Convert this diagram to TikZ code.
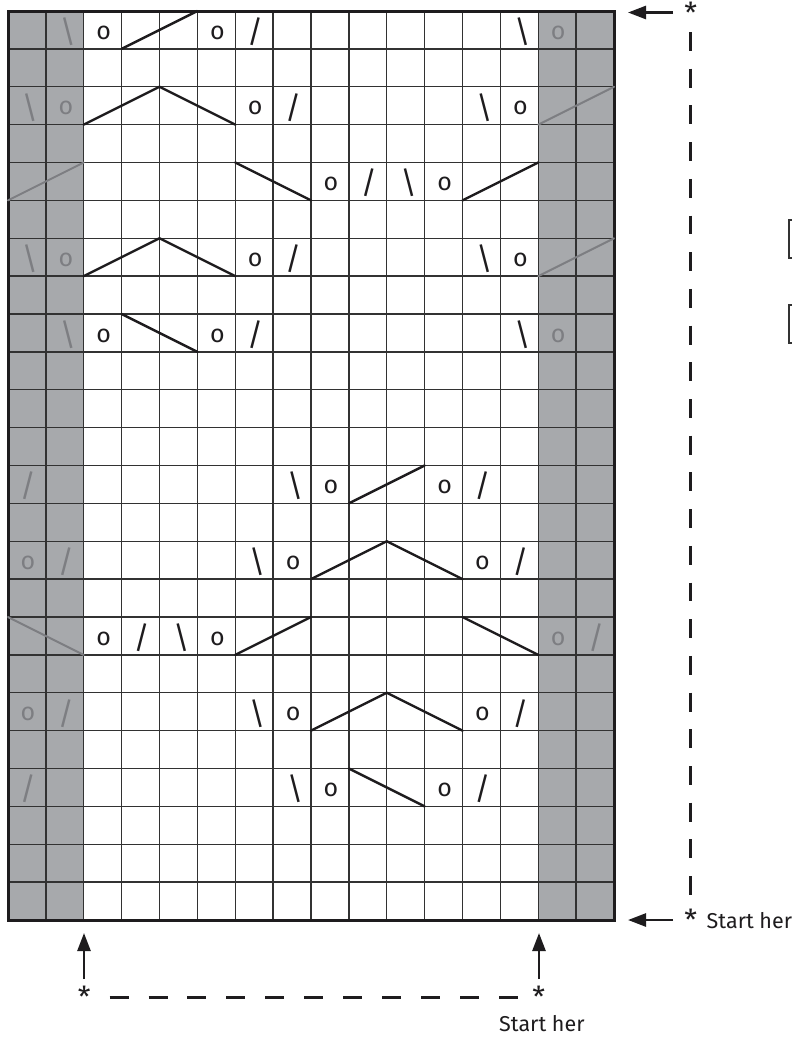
\documentclass[tikz,border=0pt]{standalone}
\usepackage{fontspec}
\setmainfont{Fira Sans}
\usetikzlibrary{arrows.meta}
\definecolor{colgray}{RGB}{167,169,172}
\definecolor{symgray}{RGB}{125,126,130}
\definecolor{gridc}{RGB}{50,50,50}
\definecolor{inkc}{RGB}{30,28,30}
\newcommand\fwdglyph{\resizebox*{!}{28pt}{/}}
\newcommand\bckglyph{\resizebox*{!}{28pt}{\textbackslash}}
\tikzset{
  gridline/.style={draw=gridc,line width=1.3pt},
  chartborder/.style={draw=inkc,line width=3pt},
  cable/.style={draw=inkc,line width=2.4pt,line cap=round,line join=round},
  graycable/.style={draw=symgray,line width=2pt,line cap=round,line join=round},
  osym/.style={inner sep=0pt,text=inkc,font=\fontsize{25}{25}\selectfont,xshift=1pt,yshift=-2.5pt},
  fwdsym/.style={inner sep=0pt,text=inkc,xshift=1pt,yshift=-1.6pt},
  bcksym/.style={inner sep=0pt,text=inkc,xshift=3pt,yshift=-1.7pt},
  grayed/.style={text=symgray},
  ast/.style={inner sep=0pt,text=inkc,font=\fontsize{29}{29}\selectfont},
  label/.style={inner sep=0pt,text=inkc,font=\fontsize{21.5}{24}\selectfont},
  arr/.style={draw=inkc,line width=2.6pt,-{Triangle[length=18pt,width=13pt]}},
  dashv/.style={draw=inkc,line width=3pt,dash pattern=on 18.9pt off 17.8pt},
  dashh/.style={draw=inkc,line width=3pt,dash pattern=on 19pt off 19.94pt},
  legendbox/.style={draw=gridc,line width=2pt}
}
\begin{document}
\begin{tikzpicture}[x=1pt,y=-1pt]
\useasboundingbox (0,0) rectangle (792,1037);
\clip (0,0) rectangle (792,1037);
\fill[white] (0,0) rectangle (792,1037);
\begin{scope}[shift={(8,11)},x=37.875pt,y=-37.875pt]
  % shaded edge columns
  \fill[colgray] (0,0) rectangle (2,24);
  \fill[colgray] (14,0) rectangle (16,24);
  % grid
  \foreach \i in {1,...,15} \draw[gridline] (\i,0) -- (\i,24);
  \foreach \j in {1,...,23} \draw[gridline] (0,\j) -- (16,\j);
  \draw[chartborder] (0,0) rectangle (16,24);
  % black cable lines
  \draw[cable] (3,1) -- (5,0);
  \draw[cable] (2,3) -- (4,2) -- (6,3);
  \draw[cable] (6,4) -- (8,5);
  \draw[cable] (12,5) -- (14,4);
  \draw[cable] (2,7) -- (4,6) -- (6,7);
  \draw[cable] (3,8) -- (5,9);
  \draw[cable] (9,13) -- (11,12);
  \draw[cable] (8,15) -- (10,14) -- (12,15);
  \draw[cable] (6,17) -- (8,16);
  \draw[cable] (12,16) -- (14,17);
  \draw[cable] (8,19) -- (10,18) -- (12,19);
  \draw[cable] (9,20) -- (11,21);
  % grey cable lines in the edge columns
  \draw[graycable] (14,3) -- (16,2);
  \draw[graycable] (0,5) -- (2,4);
  \draw[graycable] (14,7) -- (16,6);
  \draw[graycable] (0,16) -- (2,17);
  % yarn overs
  \foreach \r/\c in {0/2,0/5,2/6,2/13,4/8,4/11,6/6,6/13,8/2,8/5,12/8,12/11,14/7,14/12,16/2,16/5,18/7,18/12,20/8,20/11}
    \node[osym] (o-\r-\c) at ({\c+0.5},{\r+0.5}) {o};
  \foreach \r/\c in {0/14,2/1,6/1,8/14,14/0,16/14,18/0}
    \node[osym,grayed] (o-\r-\c) at ({\c+0.5},{\r+0.5}) {o};
  % decreases
  \foreach \r/\c in {0/6,2/7,4/9,6/7,8/6,12/12,14/13,16/3,18/13,20/12}
    \node[fwdsym] (f-\r-\c) at ({\c+0.5},{\r+0.5}) {\fwdglyph};
  \foreach \r/\c in {12/0,14/1,16/15,18/1,20/0}
    \node[fwdsym,grayed] (f-\r-\c) at ({\c+0.5},{\r+0.5}) {\fwdglyph};
  \foreach \r/\c in {0/13,2/12,4/10,6/12,8/13,12/7,14/6,16/4,18/6,20/7}
    \node[bcksym] (b-\r-\c) at ({\c+0.5},{\r+0.5}) {\bckglyph};
  \foreach \r/\c in {0/1,2/0,6/0,8/1}
    \node[bcksym,grayed] (b-\r-\c) at ({\c+0.5},{\r+0.5}) {\bckglyph};
\end{scope}
% partial legend boxes at the right edge
\draw[legendbox] (789,220) rectangle (850,258);
\draw[legendbox] (789,305) rectangle (850,343);
% right side markers
\node[ast] (astTop) at (690.7,13) {*};
\node[ast] (astRight) at (690.7,920) {*};
\node[label,anchor=base west] (startRight) at (706.5,928) {Start her};
\coordinate (tailTop) at (673,12.5);
\coordinate (tipTop) at (628,12.5);
\coordinate (tailRight) at (673,920);
\coordinate (tipRight) at (628,920);
\draw[arr] (tailTop) -- (tipTop);
\draw[arr] (tailRight) -- (tipRight);
\draw[dashv,shorten <=19pt,shorten >=25pt] (astTop.center) -- (astRight.center);
% bottom markers
\node[ast] (astLeft) at (84.3,997) {*};
\node[ast] (astBottom) at (538.8,997) {*};
\node[label,anchor=base west] (startBottom) at (499,1031) {Start her};
\coordinate (tailLeft) at (84,979);
\coordinate (tipLeft) at (84,933);
\coordinate (tailBottom) at (539,979);
\coordinate (tipBottom) at (539,933);
\draw[arr] (tailLeft) -- (tipLeft);
\draw[arr] (tailBottom) -- (tipBottom);
\draw[dashh,shorten <=25.3pt,shorten >=20.8pt] (astLeft.center) -- (astBottom.center);
\end{tikzpicture}
\end{document}
